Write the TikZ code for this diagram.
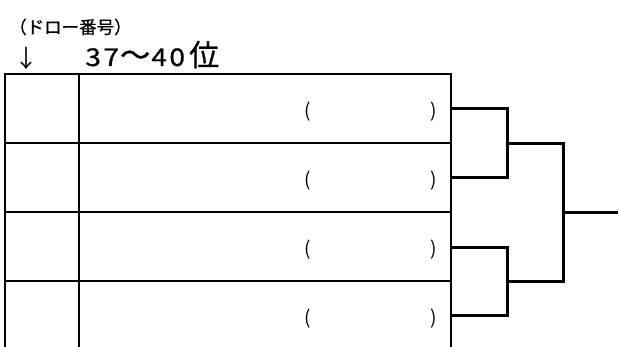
\documentclass[tikz,border=0pt]{standalone}
\usepackage{fontspec}
\setmainfont{Noto Sans CJK JP}
\newcommand{\wdig}[1]{\makebox[18pt]{\scalebox{1.15}[1]{#1}}}
\newcommand{\bigch}[1]{{\fontsize{30}{30}\selectfont #1}}
\begin{document}
\begin{tikzpicture}[x=1pt,y=-1pt,
  gridline/.style={line width=1.3pt},
  bracket/.style={line width=3pt, line join=miter},
  paren/.style={font=\fontsize{19}{19}\selectfont, inner sep=0pt},
  label/.style={inner sep=0pt}]
\useasboundingbox (0,0) rectangle (619,347);
% header texts
\node[label, anchor=west, font=\fontsize{17.5}{17.5}\selectfont\addfontfeature{FakeBold=0.6}] (drawno) at (9,27) {（ドロー番号）};
\node[label, font=\fontsize{24}{24}\selectfont] (arrow) at (26.5,58) {↓};
\node[label, anchor=base west, font=\fontsize{24.5}{24.5}\selectfont\addfontfeature{FakeBold=0.7}] (title) at (84,66)
  {\wdig{3}\wdig{7}\makebox[30pt]{\bigch{～}}\wdig{4}\wdig{0}\hspace{3pt}\bigch{位}};
% table
\draw[gridline] (5,347) -- (5,74) -- (451,74) -- (451,347);
\draw[gridline] (79,74) -- (79,347);
\foreach \y in {143,212,281} \draw[gridline] (5,\y) -- (451,\y);
% rows
\foreach \i/\y in {1/109,2/178,3/247.5,4/316} {
  \node[paren] (lp\i) at (307.5,\y+2.5) {(};
  \node[paren] (rp\i) at (433.5,\y+2.5) {)};
  \coordinate (e\i) at (451,\y);
}
\coordinate (j1) at (507,143.5);
\coordinate (j2) at (507,281.5);
\coordinate (f) at (563,212.5);
\coordinate (out) at (618,212.5);
\draw[bracket] (e1) -| (j1) |- (e2);
\draw[bracket] (e3) -| (j2) |- (e4);
\draw[bracket] (j1) -| (f) |- (j2);
\draw[bracket] (f) -- (out);
\end{tikzpicture}
\end{document}
